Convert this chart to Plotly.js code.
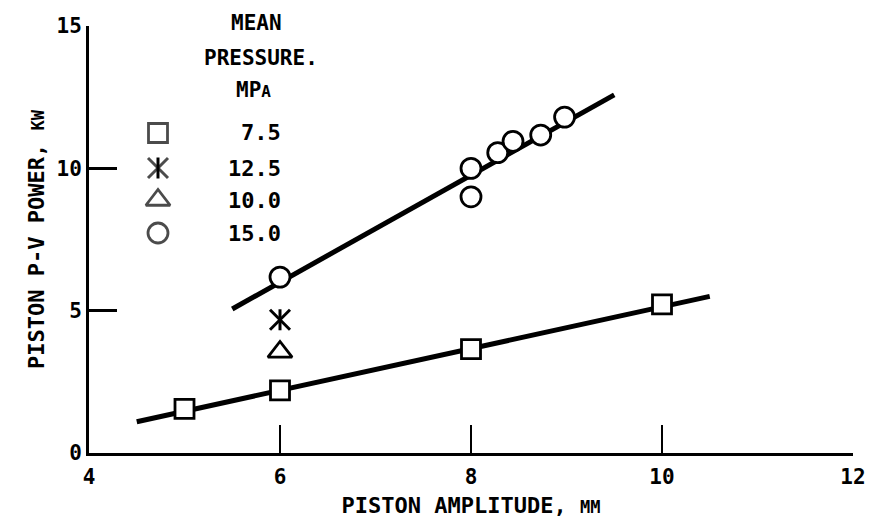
<!DOCTYPE html>
<html>
<head>
<meta charset="utf-8">
<script src="https://cdn.plot.ly/plotly-3.0.1.min.js"></script>
<style>html,body{margin:0;padding:0;background:#fff;}#chart{width:872px;height:523px;}</style>
</head>
<body>
<div id="chart"></div>
<script>
// ---- data ----
var sq75X = [5, 6, 8, 10];
var sq75Y = [1.55, 2.2, 3.65, 5.22];
var star125X = [6];
var star125Y = [4.68];
var tri10X = [6];
var tri10Y = [3.55];
var circ15X = [6, 8, 8, 8.28, 8.44, 8.73, 8.98];
var circ15Y = [6.18, 10.0, 9.0, 10.55, 10.95, 11.17, 11.8];
var lowFitX = [4.5, 10.5];
var lowFitY = [1.1, 5.5];
var highFitX = [5.5, 9.5];
var highFitY = [5.06, 12.58];
var xTicks = [4, 6, 8, 10, 12];
var yTicks = [0, 5, 10, 15];
var legendLabels = ['7.5', '12.5', '10.0', '15.0'];
var legendTitle = ['MEAN', 'PRESSURE.', 'MP<span style="font-size:16px">A</span>'];

// ---- layout helpers (plot area in pixels) ----
var L = 89, R = 853, T = 26, B = 453;
function fx(px) { return (px - L) / (R - L); }
function fy(py) { return (B - py) / (B - T); }
var FONT = 'DejaVu Sans Mono, monospace';
var legendRowsPx = [133, 168, 200, 233];
var legendMarkerPx = 158, legendTextRightPx = 283;
var titleRowsPx = [[256, 23], [261, 58], [253, 90]];

var lineStyle = {color: 'black', width: 5};
var mlw = 2.8;
var starX = {symbol: 'x-thin-open', size: 20, color: 'black', line: {color: 'black', width: 3}};
var starV = {symbol: 'line-ns-open', size: 15, color: 'black', line: {color: 'black', width: 3}};

var traces = [
  {x: lowFitX, y: lowFitY, mode: 'lines', line: lineStyle, hoverinfo: 'skip'},
  {x: highFitX, y: highFitY, mode: 'lines', line: lineStyle, hoverinfo: 'skip'},
  {x: sq75X, y: sq75Y, mode: 'markers', name: '7.5',
   marker: {symbol: 'square', size: 19, color: 'white', line: {color: 'black', width: mlw}}},
  {x: star125X, y: star125Y, mode: 'markers', name: '12.5', marker: starX},
  {x: star125X, y: star125Y, mode: 'markers', hoverinfo: 'skip', marker: starV},
  {x: tri10X, y: tri10Y, mode: 'markers', name: '10.0',
   marker: {symbol: 'triangle-up', size: 21, color: 'white', line: {color: 'black', width: mlw}}},
  {x: circ15X, y: circ15Y, mode: 'markers', name: '15.0',
   marker: {symbol: 'circle', size: 20, color: 'white', line: {color: 'black', width: mlw}}}
];

// legend key markers on an invisible overlay axis spanning the plot area
var keySymbols = ['square', 'x-thin-open', 'triangle-up', 'circle'];
var keySizes = [19, 20, 21, 20];
var keyColors = ['white', 'black', 'white', 'white'];
var keyLineW = [mlw, 3, mlw, mlw];
var keyX = legendLabels.map(function () { return fx(legendMarkerPx); });
var keyY = legendRowsPx.map(fy);
traces.push({x: keyX, y: keyY, xaxis: 'x2', yaxis: 'y2', mode: 'markers', hoverinfo: 'skip',
  marker: {symbol: keySymbols, size: keySizes, color: keyColors, line: {color: 'black', width: keyLineW}}});
traces.push({x: [keyX[1]], y: [keyY[1]], xaxis: 'x2', yaxis: 'y2', mode: 'markers', hoverinfo: 'skip', marker: starV});

var annotations = [];
titleRowsPx.forEach(function (p, i) {
  annotations.push({xref: 'paper', yref: 'paper', x: fx(p[0]), y: fy(p[1]), text: legendTitle[i],
    showarrow: false, xanchor: 'center', yanchor: 'middle', font: {family: FONT, size: 21, color: 'black', weight: 'bold'}});
});
legendLabels.forEach(function (t, i) {
  annotations.push({xref: 'paper', yref: 'paper', x: fx(legendTextRightPx), y: fy(legendRowsPx[i]), text: t,
    showarrow: false, xanchor: 'right', yanchor: 'middle', font: {family: FONT, size: 22, color: 'black', weight: 'bold'}});
});

var axisCommon = {
  showline: true, linecolor: 'black', linewidth: 3, showgrid: false, zeroline: false,
  ticks: 'inside', ticklen: 28, tickwidth: 2.5, tickcolor: 'black', fixedrange: true,
  tickfont: {family: FONT, size: 21, color: 'black', weight: 'bold'}
};

var layout = {
  width: 872, height: 523,
  margin: {l: L, r: 872 - R, t: T, b: 523 - B, pad: 0},
  paper_bgcolor: 'white', plot_bgcolor: 'white',
  showlegend: false,
  font: {family: FONT, color: 'black'},
  xaxis: Object.assign({}, axisCommon, {
    range: [4, 12], tickmode: 'array', tickvals: xTicks, ticktext: xTicks.map(String), ticklabelstandoff: 3,
    title: {text: 'PISTON AMPLITUDE, <span style="font-size:17px">MM</span>', font: {family: FONT, size: 22, color: 'black', weight: 'bold'}, standoff: 10}
  }),
  yaxis: Object.assign({}, axisCommon, {
    range: [0, 15], tickmode: 'array', tickvals: yTicks, ticktext: yTicks.map(String),
    title: {text: 'PISTON P-V POWER, <span style="font-size:17px">KW</span>', font: {family: FONT, size: 22, color: 'black', weight: 'bold'}, standoff: 6}
  }),
  xaxis2: {overlaying: 'x', range: [0, 1], visible: false, fixedrange: true},
  yaxis2: {overlaying: 'y', range: [0, 1], visible: false, fixedrange: true},
  annotations: annotations
};

Plotly.newPlot('chart', traces, layout, {displayModeBar: false, staticPlot: true});
</script>
</body>
</html>
